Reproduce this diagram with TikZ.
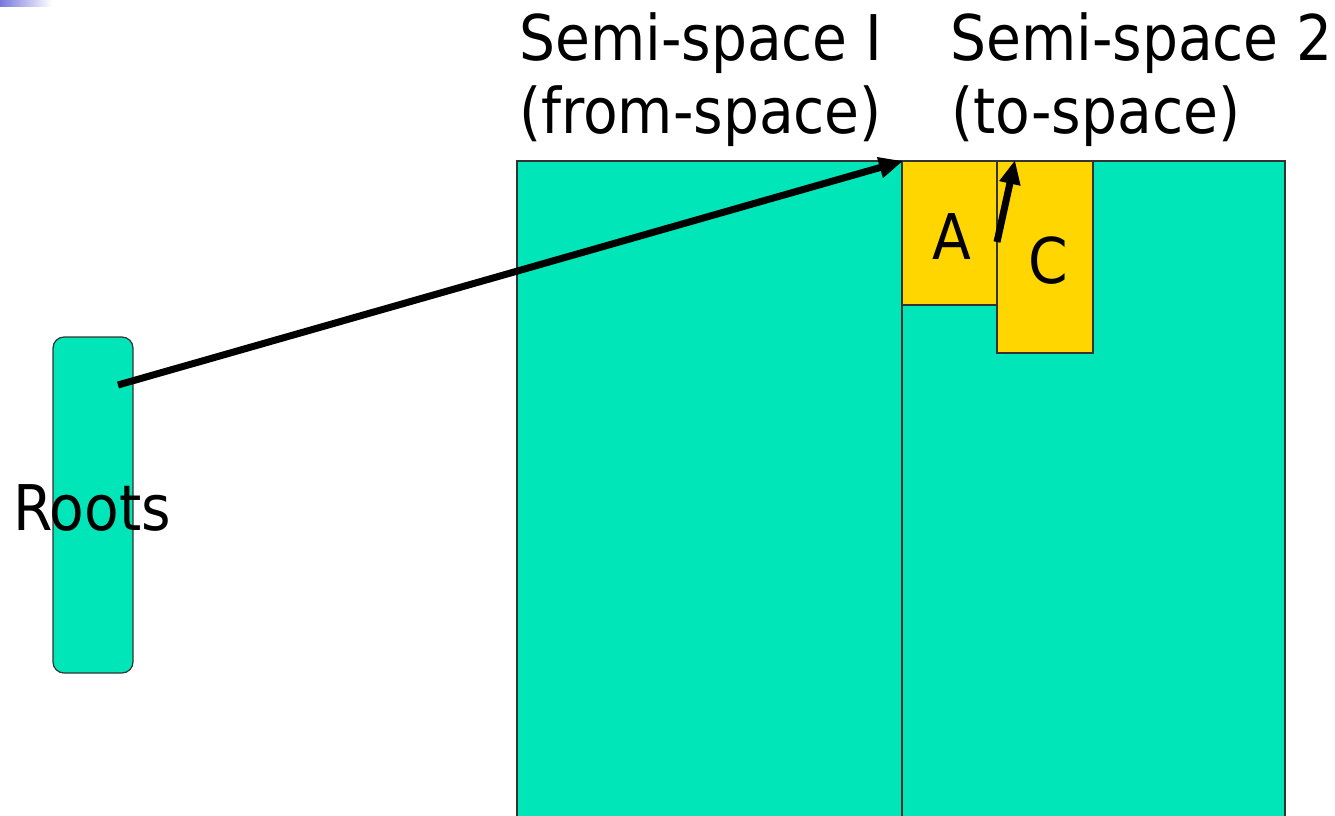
\documentclass[tikz,border=0pt]{standalone}
\usepackage{fontspec}
\setmainfont{DejaVu Sans Condensed}
\usetikzlibrary{arrows.meta}
\definecolor{teal}{RGB}{0,230,184}
\definecolor{gold}{RGB}{255,214,0}
\begin{document}
\begin{tikzpicture}[x=1pt,y=-1pt,
  region/.style={draw=black!80,line width=1.2pt,fill=teal},
  obj/.style={draw=black!80,line width=1.2pt,fill=gold},
  lbl/.style={inner sep=0pt,anchor=base west,font=\fontsize{63}{75}\selectfont},
  ptr/.style={line width=7pt,-{Triangle[length=24pt,width=20pt]}}]
\useasboundingbox (0,0) rectangle (1335,815);
\shade[left color={rgb,255:red,120;green,120;blue,220},right color=white] (0,0) rectangle (52,6);
\draw[region] (517,161) rectangle (902,830);
\draw[region] (902,161) rectangle (1285,830);
\draw[obj] (902,161) rectangle (997,305);
\draw[obj] (997,161) rectangle (1093,353);
\node[draw=black!80,line width=1.2pt,fill=teal,rounded corners=11pt,minimum width=80pt,minimum height=336pt,inner sep=0pt] (roots) at (93,505) {};
\node[lbl,anchor=base] (rootslbl) at (92,530) {Roots};
\node[lbl] (s1a) at (519,60) {Semi-space I};
\node[lbl] (s1b) at (519,133) {(from-space)};
\node[lbl] (s2a) at (950,60) {Semi-space 2};
\node[lbl] (s2b) at (951,133) {(to-space)};
\node[lbl,anchor=base] (A) at (952,259) {A};
\node[lbl,anchor=base] (C) at (1048,283) {C};
\coordinate (r0) at (118,385);
\coordinate (atop) at (903,161);
\coordinate (a0) at (997,242);
\coordinate (ctop) at (1015,160);
\draw[ptr] (r0) -- (atop);
\draw[ptr] (a0) -- (ctop);
\end{tikzpicture}
\end{document}
